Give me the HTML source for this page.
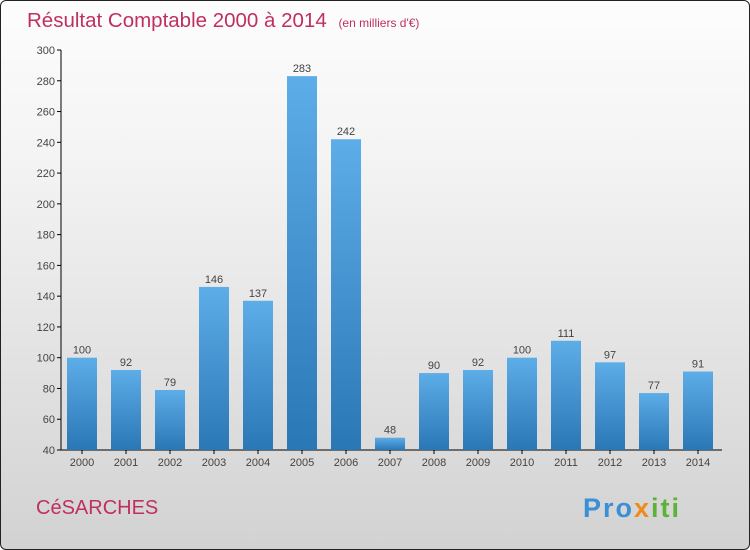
<!DOCTYPE html>
<html><head><meta charset="utf-8"><style>
body{margin:0;width:750px;height:550px;overflow:hidden}
#c{position:absolute;left:0;top:0;width:748px;height:548px;border:1px solid #222;border-radius:6px;background:linear-gradient(#fdfdfd,#f3f3f3 30%,#d2d2d2)}
</style></head><body>
<div id="c"></div>
<svg id="s" width="750" height="550" style="position:absolute;left:0;top:0" font-family="'Liberation Sans',sans-serif">
<defs><linearGradient id="g" x1="0" y1="0" x2="0" y2="1"><stop offset="0" stop-color="#5dade8"/><stop offset="1" stop-color="#2a77b5"/></linearGradient></defs>
<text x="27" y="27" font-size="20.5" fill="#c0305f">Résultat Comptable 2000 à 2014 <tspan font-size="12" dx="6">(en milliers d'€)</tspan></text>
<text x="36" y="514" font-size="20" fill="#c0305f">CéSARCHES</text>
<text x="583" y="517" font-size="27" font-weight="bold" letter-spacing="2"><tspan fill="#3a8fd6">Pro</tspan><tspan fill="#f08a1c">x</tspan><tspan fill="#5cb23a">iti</tspan></text>
<g id="ax"></g><g id="bars"></g>
</svg>
<script>
const categories=['2000','2001','2002','2003','2004','2005','2006','2007','2008','2009','2010','2011','2012','2013','2014'];
const values=[100,92,79,146,137,283,242,48,90,92,100,111,97,77,91];
const ticks=[40,60,80,100,120,140,160,180,200,220,240,260,280,300];
const NS='http://www.w3.org/2000/svg';
const y=v=>450-(v-40)*400/260;
const x=i=>82+44*i;
function mk(t,a,p){const e=document.createElementNS(NS,t);for(const k in a)e.setAttribute(k,a[k]);p.appendChild(e);return e;}
const ax=document.getElementById('ax'),bg=document.getElementById('bars');
let l=mk('line',{x1:61,y1:50,x2:61,y2:450,stroke:'#000'},ax);


l=mk('line',{x1:61,y1:450,x2:722,y2:450,stroke:'#000'},ax);


ticks.forEach(t=>{
 mk('line',{x1:57,x2:61,y1:y(t),y2:y(t),stroke:'#000'},ax);
 const tx=mk('text',{x:55,y:y(t)+4,'text-anchor':'end','font-size':11,fill:'#444'},ax);tx.textContent=t;
 
 
});
categories.forEach((c,i)=>{
 const v=values[i];
 const r=mk('rect',{x:x(i)-15,y:y(v),width:30,height:450-y(v),fill:'url(#g)'},bg);
 
 
 const lb=mk('text',{x:x(i),y:y(v)-4,'text-anchor':'middle','font-size':11,fill:'#444'},bg);lb.textContent=v;
 
 
 const cl=mk('text',{x:x(i),y:466,'text-anchor':'middle','font-size':11,fill:'#444'},bg);cl.textContent=c;
 
 
 mk('line',{x1:x(i),x2:x(i),y1:450,y2:454,stroke:'#000'},ax);
});
</script>
</body></html>
